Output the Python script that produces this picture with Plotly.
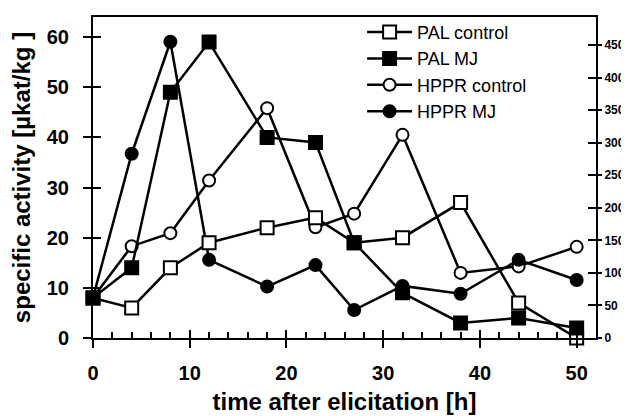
import plotly.graph_objects as go

hours = [0, 4, 8, 12, 18, 23, 27, 32, 38, 44, 50]
pal_control = [8, 6, 14, 19, 22, 24, 19, 20, 27, 7, 0]
pal_mj = [8, 14, 49, 59, 40, 39, 19, 9, 3, 4, 2]
hppr_control = [62, 141, 161, 242, 353, 170, 191, 312, 100, 110, 140]
hppr_mj = [62, 283, 455, 120, 79, 112, 43, 80, 68, 120, 89]

left_ticks = [0, 10, 20, 30, 40, 50, 60]
right_ticks = [0, 50, 100, 150, 200, 250, 300, 350, 400, 450]
x_ticks = [0, 10, 20, 30, 40, 50]

FONT = "Liberation Sans, Arial, sans-serif"
fig = go.Figure()

def add(name, y, symbol, fill, yaxis):
    fig.add_trace(go.Scatter(
        x=hours, y=y, name=name, mode="lines+markers", yaxis=yaxis,
        line=dict(color="black", width=2.5),
        marker=dict(symbol=symbol, size=13 if "square" in symbol else 12,
                    color=fill, line=dict(color="black", width=2)),
        cliponaxis=False,
    ))

# PAL on left axis (overlay y2), HPPR on right axis (main y)
add("PAL control", pal_control, "square", "white", "y2")
add("PAL MJ", pal_mj, "square", "black", "y2")
add("HPPR control", hppr_control, "circle", "white", "y")
add("HPPR MJ", hppr_mj, "circle", "black", "y")

# empty helper traces so the tick-only overlay axes exist
for xa, ya in [("x2", "y"), ("x", "y3"), ("x", "y4")]:
    fig.add_trace(go.Scatter(x=[], y=[], xaxis=xa, yaxis=ya, showlegend=False, hoverinfo="skip"))

tickfont = dict(family=FONT, size=20, color="black", weight="bold")
rtickfont = dict(family=FONT, size=12, color="black", weight="bold")
titlefont = dict(family=FONT, size=24, color="black", weight="bold")
XR = [0, 52]
LR = [0, 64]
RR = [0, 493]

# the page body has an 8px margin, so the figure is 8px smaller and shifted
fig.update_layout(
    width=621, height=408,
    margin=dict(l=85, r=33, t=6, b=78),
    plot_bgcolor="white", paper_bgcolor="white",
    font=dict(family=FONT, color="black"),
    showlegend=True,
    legend=dict(x=0.535, y=1.01, xanchor="left", yanchor="top",
                bgcolor="rgba(0,0,0,0)", font=dict(family=FONT, size=18, color="black"),
                tracegroupgap=0, itemwidth=45),
    xaxis=dict(range=XR, tickvals=x_ticks, ticks="outside", ticklen=8, tickwidth=2,
               tickcolor="black", showline=True, linecolor="black", linewidth=2,
               mirror=True, showgrid=False, zeroline=False, tickfont=tickfont,
               automargin=False, ticklabelstandoff=8,
               title=dict(text="time after elicitation [h]", font=titlefont, standoff=10)),
    xaxis2=dict(range=XR, overlaying="x", anchor="y", tickvals=x_ticks, ticks="inside",
                ticklen=8, tickwidth=2, tickcolor="black", showticklabels=False,
                showline=False, showgrid=False, zeroline=False, automargin=False,
                minor=dict(dtick=2, tick0=0, ticks="inside", ticklen=6, tickwidth=2,
                           tickcolor="black", showgrid=False)),
    yaxis=dict(range=RR, side="right", tickvals=right_ticks, ticks="outside", ticklen=4,
               tickwidth=2, tickcolor="black", showline=True, linecolor="black",
               linewidth=2, showgrid=False, zeroline=False, tickfont=rtickfont,
               automargin=False, ticklabelstandoff=0),
    yaxis2=dict(range=LR, overlaying="y", side="left", anchor="x", tickvals=left_ticks,
                ticks="outside", ticklen=8, tickwidth=2, tickcolor="black",
                showline=True, linecolor="black", linewidth=2, showgrid=False,
                zeroline=False, tickfont=tickfont, automargin=False, ticklabelstandoff=10,
                title=dict(text="specific activity [µkat/kg ]", font=titlefont, standoff=11)),
    yaxis3=dict(range=RR, overlaying="y", side="right", anchor="x", tickvals=right_ticks,
                ticks="inside", ticklen=8, tickwidth=2, tickcolor="black",
                showticklabels=False, showline=False, showgrid=False, zeroline=False,
                automargin=False),
    yaxis4=dict(range=LR, overlaying="y", side="left", anchor="x", tickvals=left_ticks,
                ticks="inside", ticklen=8, tickwidth=2, tickcolor="black",
                showticklabels=False, showline=False, showgrid=False, zeroline=False,
                automargin=False),
)

fig.write_html("out.html")
